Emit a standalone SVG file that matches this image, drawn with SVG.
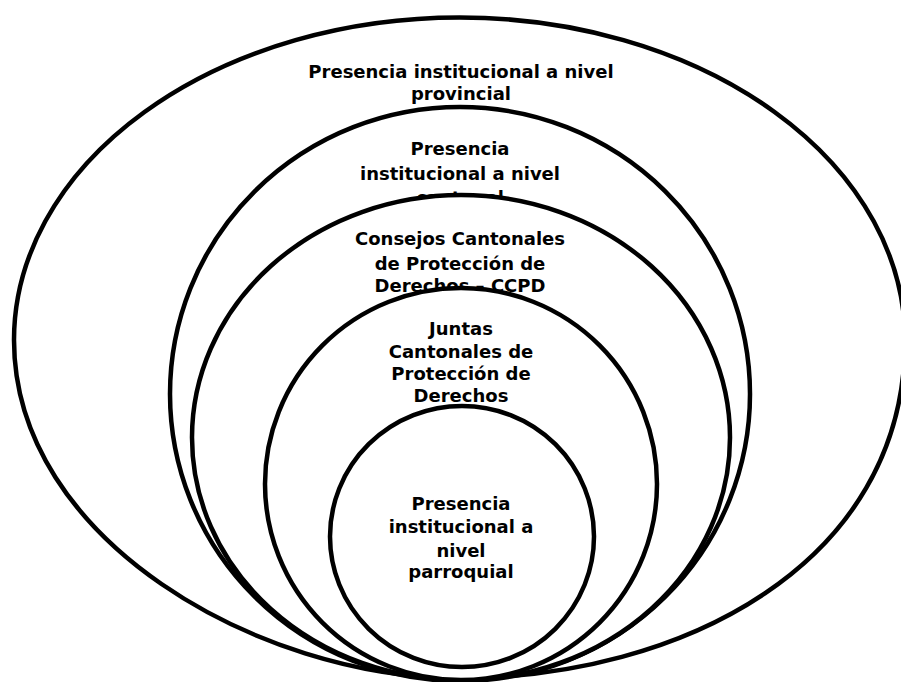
<svg xmlns="http://www.w3.org/2000/svg" width="901" height="682" viewBox="0 0 901 682">
<style>
.shape{fill:#ffffff;stroke:#000000;stroke-width:4.5}
.lbl{font-family:"DejaVu Sans","Liberation Sans",sans-serif;font-weight:bold;font-size:18px;fill:#000000;text-anchor:middle}
</style>
<rect x="0" y="0" width="901" height="682" fill="#ffffff"/>
<g id="provincial">
<path class="shape" d="M 14,340 A 445.5 322.5 0 0 1 905,340 C 905,565 680,678 459,678 C 259,678 14,540 14,340 Z"/>
<text class="lbl" x="461" y="78">Presencia institucional a nivel</text>
<text class="lbl" x="461" y="100">provincial</text>
</g>
<g id="cantonal">
<ellipse class="shape" cx="460" cy="394" rx="290" ry="287"/>
<text class="lbl" x="460" y="155">Presencia</text>
<text class="lbl" x="460" y="180">institucional a nivel</text>
<text class="lbl" x="460" y="204">cantonal</text>
</g>
<g id="ccpd">
<ellipse class="shape" cx="461" cy="437.5" rx="269" ry="242.5"/>
<text class="lbl" x="460" y="245">Consejos Cantonales</text>
<text class="lbl" x="460" y="270">de Protección de</text>
<text class="lbl" x="460" y="292">Derechos – CCPD</text>
</g>
<g id="juntas">
<ellipse class="shape" cx="461" cy="484" rx="196" ry="196"/>
<text class="lbl" x="461" y="335">Juntas</text>
<text class="lbl" x="461" y="358">Cantonales de</text>
<text class="lbl" x="461" y="380">Protección de</text>
<text class="lbl" x="461" y="402">Derechos</text>
</g>
<g id="parroquial">
<ellipse class="shape" cx="462" cy="536.5" rx="132" ry="130.5"/>
<text class="lbl" x="461" y="510">Presencia</text>
<text class="lbl" x="461" y="533">institucional a</text>
<text class="lbl" x="461" y="557">nivel</text>
<text class="lbl" x="461" y="578">parroquial</text>
</g>
</svg>
